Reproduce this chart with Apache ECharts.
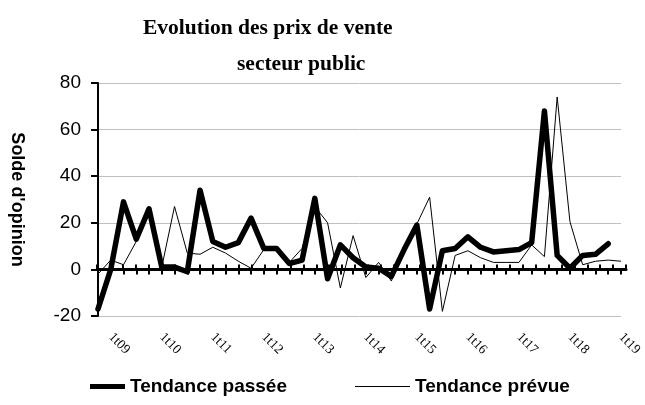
<!DOCTYPE html>
<html>
<head>
<meta charset="utf-8">
<script src="https://cdn.jsdelivr.net/npm/echarts@6/dist/echarts.min.js"></script>
<style>html,body{margin:0;padding:0;background:#fff;}#c{width:645px;height:405px;}</style>
</head>
<body>
<div id="c"></div>
<script>
var categories = ['4t08',
  '1t09','2t09','3t09','4t09','1t10','2t10','3t10','4t10',
  '1t11','2t11','3t11','4t11','1t12','2t12','3t12','4t12',
  '1t13','2t13','3t13','4t13','1t14','2t14','3t14','4t14',
  '1t15','2t15','3t15','4t15','1t16','2t16','3t16','4t16',
  '1t17','2t17','3t17','4t17','1t18','2t18','3t18','4t18','1t19'];
var tendancePassee = [-17, 0, 29, 13, 26, 1, 1, -1, 34, 12, 9.5, 11.5, 22, 9, 9, 2.5, 4, 30.5, -4, 10.5, 5, 1,
  0.5, -3, 8.5, 19, -17, 8, 9, 14, 9.5, 7.5, 8, 8.5, 11.5, 68, 6, 0.5, 6, 6.5, 11, null];
var tendancePrevue = [-2, 4, 2, 12, 25, 1, 27, 7, 6.5, 9.5, 7, 3.5, 0.5, 8.5, 8.5, 3, 9, 27, 20, -8, 14.5, -3.5,
  3, -5, 8.5, 19.5, 31, -18, 6, 8, 5, 3, 3, 3, 10.5, 5.5, 74, 20.5, 2, 3.5, 4, 3.5];
var yTicks = { min: -20, max: 80, interval: 20 };
var seriesNames = ['Tendance passée', 'Tendance prévue'];
var titleLines = ['Evolution des prix de vente', 'secteur public'];
var yName = "Solde d'opinion";

var chart = echarts.init(document.getElementById('c'), null, {renderer: 'canvas'});
var showLabel = function (idx, val) { return val.indexOf('1t') === 0; };
var gridBox = { left: 97, right: 19, top: 83, bottom: 89, containLabel: false };
var legendText = { fontFamily: 'Liberation Sans', fontWeight: 'bold', fontSize: 19, color: '#000' };
var titleText = { fontFamily: 'Liberation Serif', fontWeight: 'bold', fontSize: 21.5, color: '#000' };
chart.setOption({
  animation: false,
  backgroundColor: '#fff',
  title: [
    { text: titleLines[0], left: 138, top: 12, textStyle: titleText },
    { text: titleLines[1], left: 232, top: 48, textStyle: titleText }
  ],
  legend: [
    { data: [seriesNames[0]], left: 85, top: 372, icon: 'rect', itemWidth: 35, itemHeight: 5, itemGap: 5,
      textStyle: legendText },
    { data: [seriesNames[1]], left: 350, top: 372, icon: 'rect', itemWidth: 55, itemHeight: 1, itemGap: 5,
      textStyle: legendText }
  ],
  grid: [gridBox, gridBox],
  xAxis: [
    { type: 'category', gridIndex: 0, data: categories, boundaryGap: false, position: 'bottom',
      axisLine: { onZero: true, lineStyle: { color: '#000', width: 3 } },
      axisTick: { show: true, interval: 0, length: 5, inside: false, lineStyle: { color: '#000', width: 2 } },
      axisLabel: { interval: showLabel, rotate: -45, margin: 19,
        fontFamily: 'Liberation Serif', fontSize: 13.5, color: '#000' },
      splitLine: { show: false } },
    { type: 'category', gridIndex: 1, data: categories, boundaryGap: false, position: 'top',
      axisLine: { onZero: true, lineStyle: { color: '#000', width: 3 } },
      axisTick: { show: true, interval: 0, length: 5, inside: false, lineStyle: { color: '#000', width: 2 } },
      axisLabel: { show: false }, splitLine: { show: false } }
  ],
  yAxis: [
    { type: 'value', gridIndex: 0, min: yTicks.min, max: yTicks.max, interval: yTicks.interval,
      name: yName, nameLocation: 'middle', nameRotate: -90, nameGap: 72,
      nameTextStyle: { fontFamily: 'Liberation Sans', fontWeight: 'bold', fontSize: 18, color: '#000' },
      axisLine: { show: true, onZero: false, lineStyle: { color: '#000', width: 2 } },
      axisTick: { show: true, length: 7, lineStyle: { color: '#000', width: 2 } },
      axisLabel: { margin: 17, fontFamily: 'Liberation Sans', fontSize: 19, color: '#000' },
      splitLine: { show: true, lineStyle: { color: '#c0c0c0', width: 1 } } },
    { type: 'value', gridIndex: 1, min: yTicks.min, max: yTicks.max, interval: yTicks.interval,
      axisLine: { show: false }, axisTick: { show: false }, axisLabel: { show: false },
      splitLine: { show: false } }
  ],
  series: [
    { name: seriesNames[0], type: 'line', xAxisIndex: 0, yAxisIndex: 0, data: tendancePassee,
      symbol: 'none', showSymbol: false, connectNulls: false, z: 3,
      lineStyle: { color: '#000', width: 5.5, cap: 'round', join: 'round' }, itemStyle: { color: '#000' } },
    { name: seriesNames[1], type: 'line', xAxisIndex: 0, yAxisIndex: 0, data: tendancePrevue,
      symbol: 'none', showSymbol: false, z: 4,
      lineStyle: { color: '#000', width: 1, join: 'round' }, itemStyle: { color: '#000' } }
  ]
});
</script>
</body>
</html>
